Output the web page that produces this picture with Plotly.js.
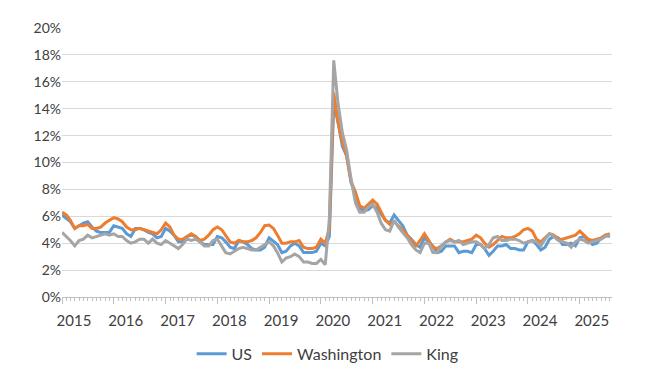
<!DOCTYPE html>
<html>
<head>
<meta charset="utf-8">
<script src="https://cdn.plot.ly/plotly-3.0.1.min.js"></script>
<style>
html,body{margin:0;padding:0;background:#fff;}
#chart{width:650px;height:378px;}
</style>
</head>
<body>
<div id="chart"></div>
<script>
// Monthly series, Jan 2015 .. Aug 2025 (unemployment rate, %)
const startYear = 2015;
const nMonths = 128;

const usRate = [
  6.1,5.8,5.6,5.1,5.3,5.5,5.6,5.2,4.9,4.8,4.8,4.8,
  5.3,5.2,5.1,4.7,4.5,5.1,5.1,5.0,4.8,4.7,4.4,4.5,
  5.1,4.9,4.6,4.1,4.1,4.5,4.6,4.5,4.1,3.9,3.9,3.9,
  4.5,4.4,4.1,3.7,3.6,4.2,4.1,3.9,3.6,3.5,3.5,3.7,
  4.4,4.1,3.9,3.3,3.4,3.8,4.0,3.8,3.3,3.3,3.3,3.4,
  4.0,3.8,4.5,14.4,13.0,11.2,10.5,8.5,7.7,6.6,6.4,6.5,
  6.8,6.6,6.2,5.7,5.5,6.1,5.7,5.3,4.6,4.3,3.9,3.7,
  4.4,4.1,3.8,3.3,3.4,3.8,3.8,3.8,3.3,3.4,3.4,3.3,
  3.9,3.9,3.6,3.1,3.4,3.8,3.8,3.9,3.6,3.6,3.5,3.5,
  4.1,4.2,3.9,3.5,3.7,4.3,4.5,4.4,3.9,3.9,4.0,3.8,
  4.4,4.5,4.2,3.9,4.0,4.4,4.6,4.5
];

const waRate = [
  6.3,6.1,5.7,5.1,5.3,5.3,5.4,5.1,5.1,5.2,5.5,5.7,
  5.9,5.8,5.6,5.2,5.0,5.0,5.1,5.0,4.9,4.8,4.7,5.0,
  5.5,5.2,4.6,4.3,4.3,4.5,4.7,4.5,4.2,4.3,4.6,5.0,
  5.2,5.0,4.6,4.1,4.0,4.2,4.1,4.1,4.2,4.4,4.8,5.3,
  5.35,5.1,4.6,4.0,4.0,4.1,4.1,4.2,3.7,3.6,3.6,3.7,
  4.3,4.0,5.1,15.2,13.0,11.5,10.5,8.6,7.8,6.8,6.6,6.9,
  7.2,6.9,6.3,5.7,5.4,5.6,5.3,5.0,4.6,4.2,3.8,4.2,
  4.7,4.2,3.7,3.6,3.8,4.1,4.3,4.1,4.1,4.1,4.2,4.3,
  4.6,4.4,4.0,3.7,3.9,4.2,4.5,4.4,4.4,4.5,4.7,5.0,
  5.1,4.9,4.3,4.1,4.4,4.7,4.6,4.3,4.3,4.4,4.5,4.6,
  4.9,4.6,4.3,4.2,4.3,4.4,4.6,4.7
];

const kingRate = [
  4.8,4.5,4.2,3.8,4.2,4.3,4.6,4.4,4.5,4.6,4.7,4.6,
  4.7,4.5,4.5,4.2,4.0,4.1,4.3,4.3,4.0,4.3,4.0,3.9,
  4.2,4.0,3.8,3.6,3.9,4.3,4.2,4.3,4.1,3.8,3.8,4.2,
  4.3,3.8,3.3,3.2,3.4,3.6,3.7,3.6,3.5,3.5,3.7,3.9,
  4.1,3.8,3.3,2.6,2.9,3.0,3.2,3.0,2.6,2.6,2.5,2.5,
  2.8,2.4,5.8,17.6,14.4,12.2,10.9,8.8,7.0,6.3,6.3,6.7,
  6.9,6.3,5.5,5.0,4.9,5.7,5.2,4.8,4.4,3.9,3.5,3.3,
  4.0,4.0,3.3,3.3,3.8,4.1,4.2,4.1,4.2,3.9,4.0,4.1,
  4.1,3.9,3.6,3.9,4.4,4.5,4.2,4.2,4.3,4.3,4.2,4.0,
  4.1,4.2,4.1,3.8,4.3,4.7,4.5,4.2,4.1,4.0,3.7,4.1,
  4.3,4.2,4.0,4.1,4.2,4.3,4.5,4.6
];

const yearLabels = ['2015','2016','2017','2018','2019','2020','2021','2022','2023','2024','2025'];
const seriesNames = ['US','Washington','King'];

// month dates (category keys for the date axis)
const months = [];
for (let i = 0; i < nMonths; i++) {
  const y = startYear + Math.floor(i / 12);
  const m = (i % 12) + 1;
  months.push(y + '-' + (m < 10 ? '0' + m : m) + '-01');
}
const yearTicks = yearLabels.map(y => y + '-01-01');

const colors = ['#5B9BD5', '#ED7D31', '#A5A5A5'];
const values = [usRate, waRate, kingRate];

const traces = values.map((v, k) => ({
  type: 'scatter',
  mode: 'lines',
  name: seriesNames[k],
  x: months,
  y: v,
  line: {color: colors[k], width: 3}
}));

const textColor = '#404040';
const layout = {
  width: 650, height: 378,
  margin: {l: 62, r: 38, t: 28, b: 81},
  paper_bgcolor: '#fff', plot_bgcolor: '#fff',
  font: {family: 'Lato, "Open Sans", sans-serif', size: 14, color: textColor},
  showlegend: true,
  legend: {
    orientation: 'h', xref: 'container', yref: 'container',
    x: 0.504, xanchor: 'center', y: 0.064, yanchor: 'middle',
    font: {size: 16, color: textColor}, traceorder: 'normal'
  },
  xaxis: {
    type: 'date',
    range: ['2015-01-01', '2025-08-16'],
    tickmode: 'array', tickvals: yearTicks, ticktext: yearLabels,
    ticklabelshift: 12, ticklabelstandoff: 4,
    ticks: 'outside', ticklen: 6, tickcolor: '#bfbfbf', tickwidth: 1,
    minor: {dtick: 'M1', tick0: '2015-01-01', ticks: 'outside', ticklen: 3, tickcolor: '#bfbfbf', showgrid: false},
    showgrid: false, zeroline: false,
    showline: true, linecolor: '#bfbfbf', linewidth: 1,
    tickfont: {size: 15, color: textColor}
  },
  yaxis: {
    range: [0, 20], dtick: 2, tick0: 0,
    ticksuffix: '%',
    showgrid: true, gridcolor: '#d9d9d9', gridwidth: 1,
    zeroline: false, showline: false, ticks: '',
    tickfont: {size: 14, color: textColor}
  }
};

Plotly.newPlot('chart', traces, layout, {displayModeBar: false, staticPlot: true});
</script>
</body>
</html>
